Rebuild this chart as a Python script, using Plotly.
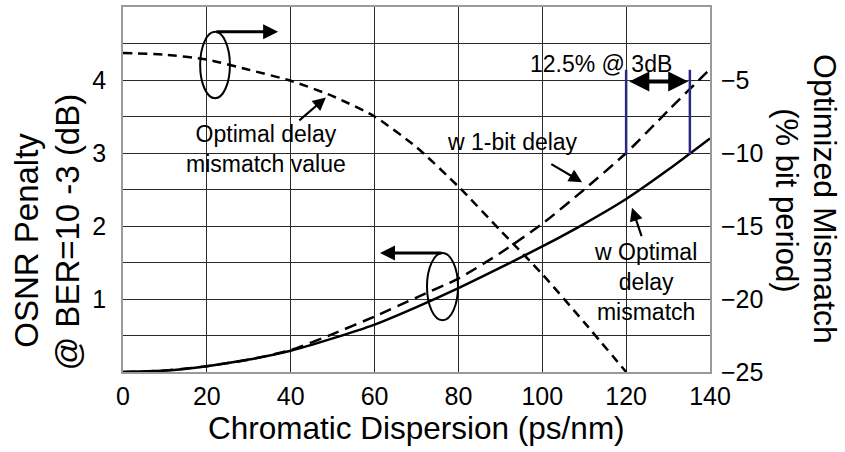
import plotly.graph_objects as go

# ---- data ----
dispersion = [0, 10, 20, 30, 40, 50, 60, 70, 80, 90, 100, 110, 120, 130, 140]
penalty_optimal = [0, 0.02, 0.08, 0.17, 0.29, 0.46, 0.65, 0.89, 1.15, 1.43, 1.72, 2.03, 2.37, 2.77, 3.2]
penalty_1bit = [0, 0.02, 0.08, 0.17, 0.30, 0.52, 0.76, 1.02, 1.28, 1.63, 2.03, 2.5, 3.0, 3.58, 4.15]
mismatch_x = [0, 10, 20, 30, 40, 50, 60, 70, 80, 90, 100, 110, 120]
mismatch_value = [-3.15, -3.27, -3.6, -4.3, -5.05, -6.1, -7.5, -9.6, -12.3, -15.3, -18.3, -21.6, -25]

x_ticks = [0, 20, 40, 60, 80, 100, 120, 140]
y_tickvals = [0.5, 1, 1.5, 2, 2.5, 3, 3.5, 4, 4.5]
y_ticktext = ["", "1", "", "2", "", "3", "", "4", ""]
y2_ticks = [-25, -20, -15, -10, -5]

FONT = "Liberation Sans, Arial, sans-serif"
GRID = "#2a2a2a"

fig = go.Figure()
fig.add_trace(go.Scatter(x=dispersion, y=penalty_optimal, mode="lines",
                         line=dict(color="black", width=2.5, shape="spline", smoothing=0.6),
                         showlegend=False))
fig.add_trace(go.Scatter(x=dispersion, y=penalty_1bit, mode="lines",
                         line=dict(color="black", width=2.5, dash="12px,7px", shape="spline", smoothing=0.6),
                         showlegend=False))
fig.add_trace(go.Scatter(x=mismatch_x, y=mismatch_value, mode="lines", yaxis="y2",
                         line=dict(color="black", width=2.5, dash="9px,6px", shape="spline", smoothing=0.6),
                         showlegend=False))

annotations = []
# axis titles
annotations.append(dict(text="Chromatic Dispersion (ps/nm)", xref="paper", yref="paper",
                        x=0.5, y=-0.153, xanchor="center", yanchor="middle", showarrow=False,
                        font=dict(size=31.5, family=FONT, color="black")))
annotations.append(dict(text="OSNR Penalty", xref="paper", yref="paper",
                        x=-0.165, y=0.36, xanchor="center", yanchor="middle", showarrow=False,
                        textangle=-90, font=dict(size=33, family=FONT, color="black")))
annotations.append(dict(text="@ BER=10 -3 (dB)", xref="paper", yref="paper",
                        x=-0.094, y=0.385, xanchor="center", yanchor="middle", showarrow=False,
                        textangle=-90, font=dict(size=33, family=FONT, color="black")))
annotations.append(dict(text="Optimized Mismatch", xref="paper", yref="paper",
                        x=1.197, y=0.475, xanchor="center", yanchor="middle", showarrow=False,
                        textangle=90, font=dict(size=32, family=FONT, color="black")))
annotations.append(dict(text="(% bit period)", xref="paper", yref="paper",
                        x=1.13, y=0.47, xanchor="center", yanchor="middle", showarrow=False,
                        textangle=90, font=dict(size=31, family=FONT, color="black")))

af = dict(size=23, family=FONT, color="black")
annotations.append(dict(text="Optimal delay<br>mismatch value", x=34.1, y=3.05, xref="x", yref="y",
                        showarrow=False, font=af))
annotations.append(dict(text="", x=48.4, y=3.76, ax=41.7, ay=3.43, xref="x", yref="y",
                        axref="x", ayref="y", showarrow=True, arrowhead=2, arrowsize=1.2,
                        arrowwidth=2.2, arrowcolor="black"))
annotations.append(dict(text="w 1-bit delay", x=93.0, y=3.15, xref="x", yref="y",
                        showarrow=False, font=af))
annotations.append(dict(text="", x=109.5, y=2.60, ax=101.8, ay=2.86, xref="x", yref="y",
                        axref="x", ayref="y", showarrow=True, arrowhead=2, arrowsize=1.2,
                        arrowwidth=2.2, arrowcolor="black"))
annotations.append(dict(text="12.5% @ 3dB", x=114.0, y=4.22, xref="x", yref="y",
                        showarrow=False, font=af))
annotations.append(dict(text="", x=134.8, y=3.98, ax=120.4, ay=3.98, xref="x", yref="y",
                        axref="x", ayref="y", showarrow=True, arrowhead=2, startarrowhead=2,
                        arrowside="end+start", arrowsize=1, startarrowsize=1,
                        arrowwidth=4, arrowcolor="black"))
annotations.append(dict(text="w Optimal<br>delay<br>mismatch", x=124.5, y=1.23, xref="x", yref="y",
                        showarrow=False, font=af))
annotations.append(dict(text="", x=121.4, y=2.25, ax=123.8, ay=1.84, xref="x", yref="y",
                        axref="x", ayref="y", showarrow=True, arrowhead=2, arrowsize=1.2,
                        arrowwidth=2.2, arrowcolor="black"))
# ellipse pointer arrows
annotations.append(dict(text="", x=37.0, y=4.66, ax=21.9, ay=4.66, xref="x", yref="y",
                        axref="x", ayref="y", showarrow=True, arrowhead=2, arrowsize=1,
                        arrowwidth=3, arrowcolor="black"))
annotations.append(dict(text="", x=61.3, y=1.63, ax=76.3, ay=1.63, xref="x", yref="y",
                        axref="x", ayref="y", showarrow=True, arrowhead=2, arrowsize=1,
                        arrowwidth=3, arrowcolor="black"))

shapes = [
    dict(type="circle", xref="x", yref="y", x0=18.4, x1=25.5, y0=3.75, y1=4.66,
         line=dict(color="black", width=2)),
    dict(type="circle", xref="x", yref="y", x0=72.5, x1=79.9, y0=0.71, y1=1.63,
         line=dict(color="black", width=2)),
    dict(type="line", xref="x", yref="y", x0=120, x1=120, y0=2.98, y1=4.14,
         line=dict(color="#2b2a7e", width=2.5)),
    dict(type="line", xref="x", yref="y", x0=135.2, x1=135.2, y0=2.98, y1=4.14,
         line=dict(color="#2b2a7e", width=2.5)),
]

fig.update_layout(
    width=845, height=452,
    margin=dict(l=123, r=135, t=5, b=80),
    paper_bgcolor="white", plot_bgcolor="white",
    font=dict(family=FONT, color="black"),
    xaxis=dict(range=[0, 140], tickvals=x_ticks, showgrid=True, gridcolor=GRID, gridwidth=1,
               showline=True, linecolor="#9a9a9a", linewidth=1.5, mirror=True,
               ticks="", ticklabelstandoff=1, tickfont=dict(size=25), zeroline=False),
    yaxis=dict(range=[0, 5], tickvals=y_tickvals, ticktext=y_ticktext, showgrid=True,
               gridcolor=GRID, gridwidth=1, showline=True, linecolor="#9a9a9a", linewidth=1.5,
               mirror=True, ticks="", ticklabelstandoff=10, tickfont=dict(size=25), zeroline=False),
    yaxis2=dict(range=[-25, 0], tickvals=y2_ticks, overlaying="y", side="right", showgrid=False,
                ticks="", ticklabelstandoff=10, tickfont=dict(size=25), zeroline=False,
                showline=False),
    annotations=annotations,
    shapes=shapes,
    showlegend=False,
)

fig.write_html("out.html")
